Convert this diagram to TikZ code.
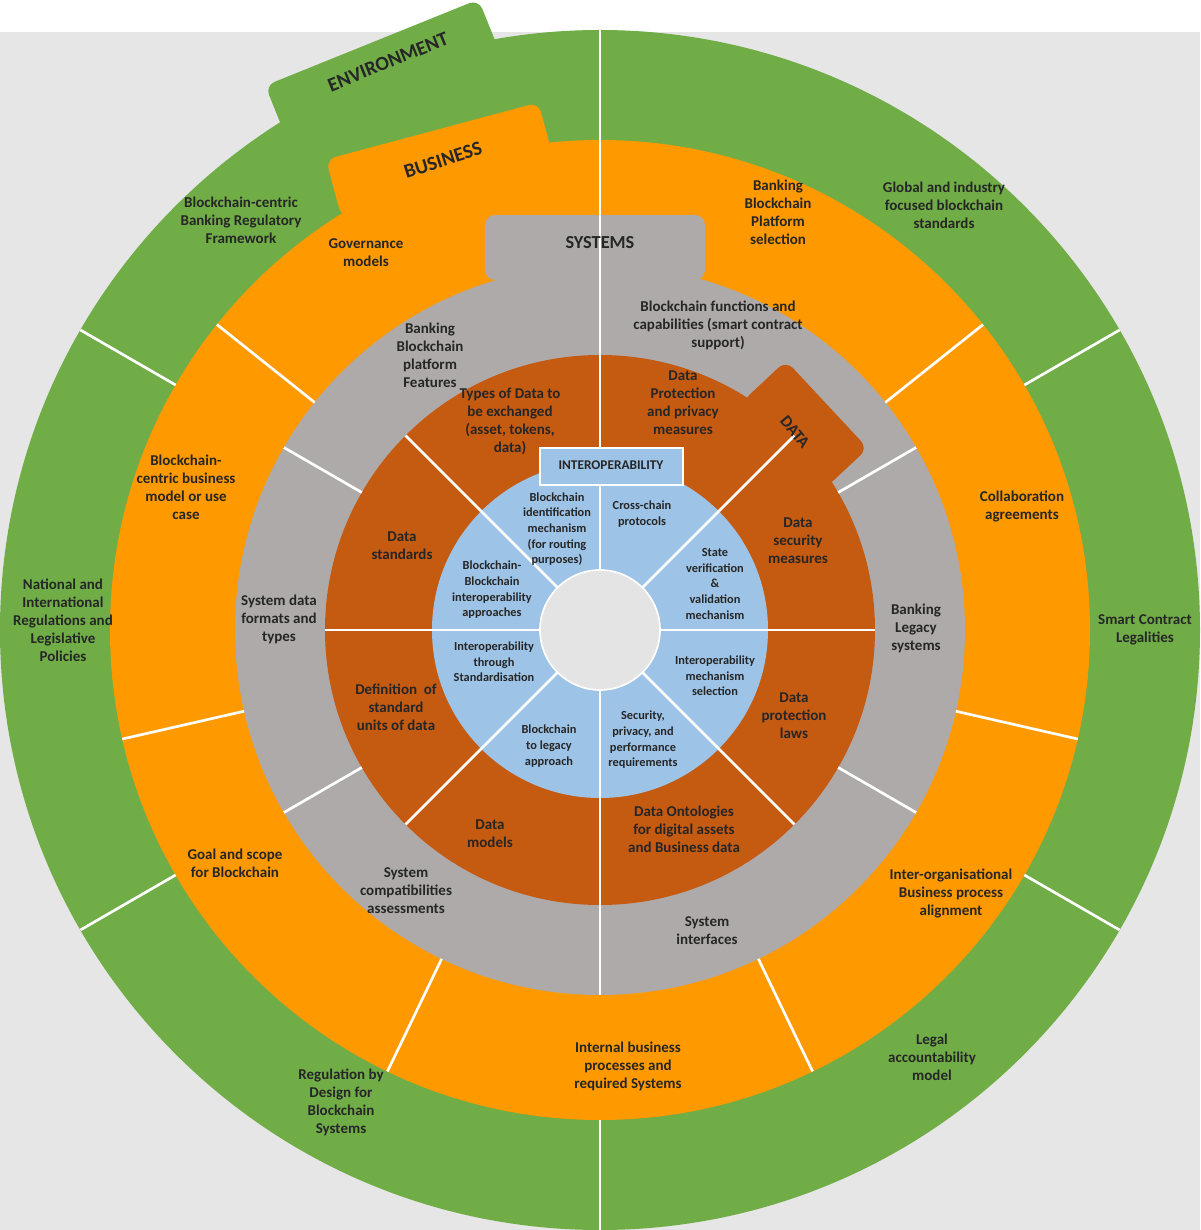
\documentclass[tikz,border=0pt]{standalone}
\usepackage{fontspec}
\setmainfont{Carlito}
\definecolor{cgreen}{HTML}{70AD47}
\definecolor{corange}{HTML}{FF9900}
\definecolor{cgray}{HTML}{AEAAAA}
\definecolor{cbrown}{HTML}{C55A11}
\definecolor{cblue}{HTML}{9DC3E6}
\definecolor{cbg}{HTML}{E7E6E6}
\definecolor{ccenter}{HTML}{E4E4E4}
\begin{document}
\begin{tikzpicture}[x=0.6pt,y=0.6pt,
  lbl/.style={align=center,font=\bfseries\fontsize{9}{10.8}\selectfont,text=black!85,inner sep=0pt},
  blbl/.style={align=center,font=\bfseries\fontsize{7.4}{9.4}\selectfont,text=black!85,inner sep=0pt},
  tabtxt/.style={font=\bfseries\fontsize{11}{13}\selectfont,text=black!85,inner sep=0pt},
  divline/.style={white,line width=1.6pt}]
\useasboundingbox (-600,-600) rectangle (600,630);
\fill[cbg] (-600,-600) rectangle (600,598);
% tabs and rings
\fill[cgreen,rounded corners=6pt,rotate around={22:(-215,555)}] (-330,520) rectangle (-100,590);
\fill[cgreen] (0,0) circle (600);
\fill[corange,rounded corners=6pt,rotate around={15:(-160,470)}] (-270,440) rectangle (-50,500);
\fill[corange] (0,0) circle (490);
\fill[cgray,rounded corners=6pt] (-115,350) rectangle (105,415);
\fill[cgray] (0,0) circle (365);
\fill[cbrown,rounded corners=6pt,rotate around={-47:(205,205)}] (145,175) rectangle (265,235);
\fill[cbrown] (0,0) circle (275);
\fill[cblue] (0,0) circle (168);
\fill[ccenter] (0,0) circle (60);
\draw[white,line width=1pt] (0,0) circle (60);
% dividers
\foreach \a in {30,90,150,210,270,330} \draw[divline] (\a:490) -- (\a:600);
\foreach \k in {0,...,6} \draw[divline] ({90-\k*360/7}:365) -- ({90-\k*360/7}:490);
\foreach \a in {30,90,150,210,270,330} \draw[divline] (\a:275) -- (\a:365);
\foreach \a in {0,45,...,315} \draw[divline] (\a:168) -- (\a:275);
\foreach \a in {0,45,...,315} \draw[divline] (\a:60) -- (\a:168);
% interop tab
\fill[cblue,draw=white,line width=1pt] (-60,145) rectangle (83,182);
% tab texts
\node[tabtxt,rotate=22,font=\bfseries\fontsize{12}{14}\selectfont] (envt) at (-212,568) {ENVIRONMENT};
\node[tabtxt,rotate=18,font=\bfseries\fontsize{12}{14}\selectfont] (bust) at (-157,470) {BUSINESS};
\node[tabtxt] (syst) at (0,387) {SYSTEMS};
\node[tabtxt,rotate=-50,font=\bfseries\fontsize{10}{12}\selectfont] (datat) at (195,198) {DATA};
\node[tabtxt,font=\bfseries\fontsize{8}{10}\selectfont] (intt) at (11,165) {INTEROPERABILITY};
% green labels
\node[lbl] (g1) at (-359,410) {Blockchain-centric\\Banking Regulatory\\Framework};
\node[lbl] (g2) at (344,425) {Global and industry\\focused blockchain\\standards};
\node[lbl] (g3) at (545,0) {Smart Contract\\Legalities};
\node[lbl] (g4) at (332,-427) {Legal\\accountability\\model};
\node[lbl] (g5) at (-259,-472) {Regulation by\\Design for\\Blockchain\\Systems};
\node[lbl] (g6) at (-537,10) {National and\\International\\Regulations and\\Legislative\\Policies};
% orange labels
\node[lbl] (o1) at (-234,377) {Governance\\models};
\node[lbl] (o2) at (178,418) {Banking\\Blockchain\\Platform\\selection};
\node[lbl] (o3) at (422,124) {Collaboration\\agreements};
\node[lbl] (o4) at (351,-263) {Inter-organisational\\Business process\\alignment};
\node[lbl] (o5) at (28,-436) {Internal business\\processes and\\required Systems};
\node[lbl] (o6) at (-365,-233) {Goal and scope\\for Blockchain};
\node[lbl] (o7) at (-414,143) {Blockchain-\\centric business\\model or use\\case};
% gray labels
\node[lbl] (s1) at (118,305) {Blockchain functions and\\capabilities (smart contract\\support)};
\node[lbl] (s2) at (316,2) {Banking\\Legacy\\systems};
\node[lbl] (s3) at (107,-301) {System\\interfaces};
\node[lbl] (s4) at (-194,-261) {System\\compatibilities\\assessments};
\node[lbl] (s5) at (-321,11) {System data\\formats and\\types};
\node[lbl] (s6) at (-170,275) {Banking\\Blockchain\\platform\\Features};
% brown labels
\node[lbl] (d1) at (83,227) {Data\\Protection\\and privacy\\measures};
\node[lbl] (d2) at (198,89) {Data\\security\\measures};
\node[lbl] (d3) at (194,-86) {Data\\protection\\laws};
\node[lbl] (d4) at (84,-199) {Data Ontologies\\for digital assets\\and Business data};
\node[lbl] (d5) at (-110,-204) {Data\\models};
\node[lbl] (d6) at (-204,-77) {Definition~~of\\standard\\units of data};
\node[lbl] (d7) at (-198,84) {Data\\standards};
\node[lbl] (d8) at (-90,209) {Types of Data to\\be exchanged\\(asset, tokens,\\data)};
% blue labels
\node[blbl] (b1) at (-43,101) {Blockchain\\identification\\mechanism\\(for routing\\purposes)};
\node[blbl] (b2) at (42,116) {Cross-chain\\protocols};
\node[blbl] (b3) at (115,46) {State\\verification\\\&\\validation\\mechanism};
\node[blbl] (b4) at (115,-46) {Interoperability\\mechanism\\selection};
\node[blbl] (b5) at (43,-110) {Security,\\privacy, and\\performance\\requirements};
\node[blbl] (b6) at (-51,-116) {Blockchain\\to legacy\\approach};
\node[blbl] (b7) at (-106,-32) {Interoperability\\through\\Standardisation};
\node[blbl] (b8) at (-108,40) {Blockchain-\\Blockchain\\interoperability\\approaches};
\end{tikzpicture}
\end{document}
